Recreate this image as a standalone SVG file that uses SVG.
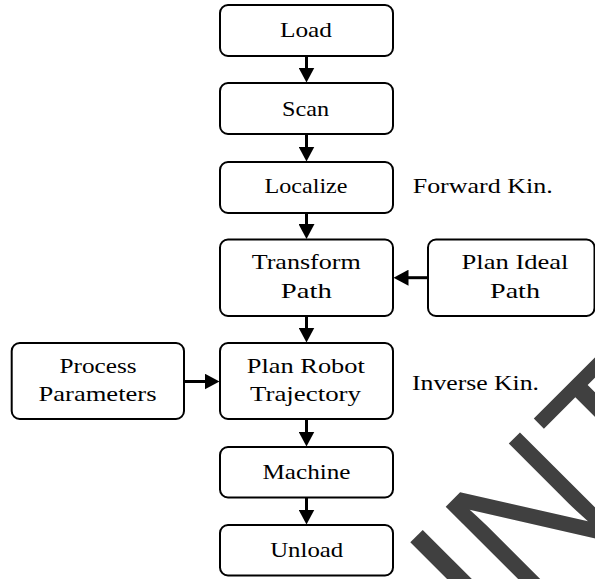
<svg xmlns="http://www.w3.org/2000/svg" width="595" height="579" viewBox="0 0 595 579">
<style>
.box{fill:#fff;stroke:#000;stroke-width:2}
.t{font-family:"Liberation Serif","Times New Roman",serif;font-size:21.5px;fill:#000;text-anchor:middle}
.s{font-family:"Liberation Serif","Times New Roman",serif;font-size:21.5px;fill:#000}
.c{stroke:#000;stroke-width:3;fill:none;marker-end:url(#ah)}
.wm{font-family:"Liberation Sans",Arial,sans-serif;font-size:188px;fill:#404040}
</style>
<defs>
<marker id="ah" markerUnits="userSpaceOnUse" markerWidth="15" markerHeight="16" viewBox="0 0 15 16" refX="0.5" refY="8" orient="auto">
<path d="M0,0 L15,8 L0,16 z" fill="#000"/>
</marker>
</defs>
<rect width="595" height="579" fill="#fff"/>
<g id="connectors">
<line class="c" x1="306.5" y1="56" x2="306.5" y2="68"/>
<line class="c" x1="306.5" y1="134" x2="306.5" y2="147"/>
<line class="c" x1="306.5" y1="213" x2="306.5" y2="224.5"/>
<line class="c" x1="306.5" y1="316" x2="306.5" y2="328"/>
<line class="c" x1="306.5" y1="419" x2="306.5" y2="432"/>
<line class="c" x1="306.5" y1="497.5" x2="306.5" y2="510"/>
<line class="c" x1="428" y1="277.7" x2="408" y2="277.7"/>
<line class="c" x1="184" y1="381.5" x2="205" y2="381.5"/>
</g>
<g id="load"><rect class="box" x="220" y="5" width="173" height="51" rx="8"/><text class="t" x="306" y="37.3" textLength="52" lengthAdjust="spacingAndGlyphs">Load</text></g>
<g id="scan"><rect class="box" x="220" y="83" width="173" height="51" rx="8"/><text class="t" x="305.5" y="115.5" textLength="47" lengthAdjust="spacingAndGlyphs">Scan</text></g>
<g id="localize"><rect class="box" x="220" y="162" width="173" height="51" rx="8"/><text class="t" x="306" y="193" textLength="83" lengthAdjust="spacingAndGlyphs">Localize</text></g>
<g id="transform"><rect class="box" x="220" y="239.5" width="173" height="76.5" rx="8"/><text class="t" x="306.2" y="269.3" textLength="109" lengthAdjust="spacingAndGlyphs">Transform</text><text class="t" x="306.3" y="298.3" textLength="51" lengthAdjust="spacingAndGlyphs">Path</text></g>
<g id="plan-ideal"><rect class="box" x="428" y="239.5" width="166.5" height="76.5" rx="8"/><text class="t" x="515" y="269.3" textLength="107" lengthAdjust="spacingAndGlyphs">Plan Ideal</text><text class="t" x="515" y="298.3" textLength="50" lengthAdjust="spacingAndGlyphs">Path</text></g>
<g id="process"><rect class="box" x="11.7" y="343" width="172.3" height="76" rx="8"/><text class="t" x="98" y="373.3" textLength="77" lengthAdjust="spacingAndGlyphs">Process</text><text class="t" x="97.5" y="401" textLength="118" lengthAdjust="spacingAndGlyphs">Parameters</text></g>
<g id="plan-robot"><rect class="box" x="220" y="343" width="173" height="76" rx="8"/><text class="t" x="305.8" y="373.3" textLength="118" lengthAdjust="spacingAndGlyphs">Plan Robot</text><text class="t" x="305.5" y="401" textLength="111" lengthAdjust="spacingAndGlyphs">Trajectory</text></g>
<g id="machine"><rect class="box" x="220" y="447" width="173" height="50.5" rx="8"/><text class="t" x="306.5" y="479.3" textLength="88" lengthAdjust="spacingAndGlyphs">Machine</text></g>
<g id="unload"><rect class="box" x="220" y="525" width="173" height="50.5" rx="8"/><text class="t" x="306.7" y="557.3" textLength="73" lengthAdjust="spacingAndGlyphs">Unload</text></g>
<g id="labels">
<text class="s" x="412.7" y="192.7" textLength="140" lengthAdjust="spacingAndGlyphs">Forward Kin.</text>
<text class="s" x="412" y="390" textLength="127" lengthAdjust="spacingAndGlyphs">Inverse Kin.</text>
</g>
<g id="watermark">
<text class="wm" transform="translate(393.4,741.9) rotate(-45)">RINT</text>
</g>
</svg>
